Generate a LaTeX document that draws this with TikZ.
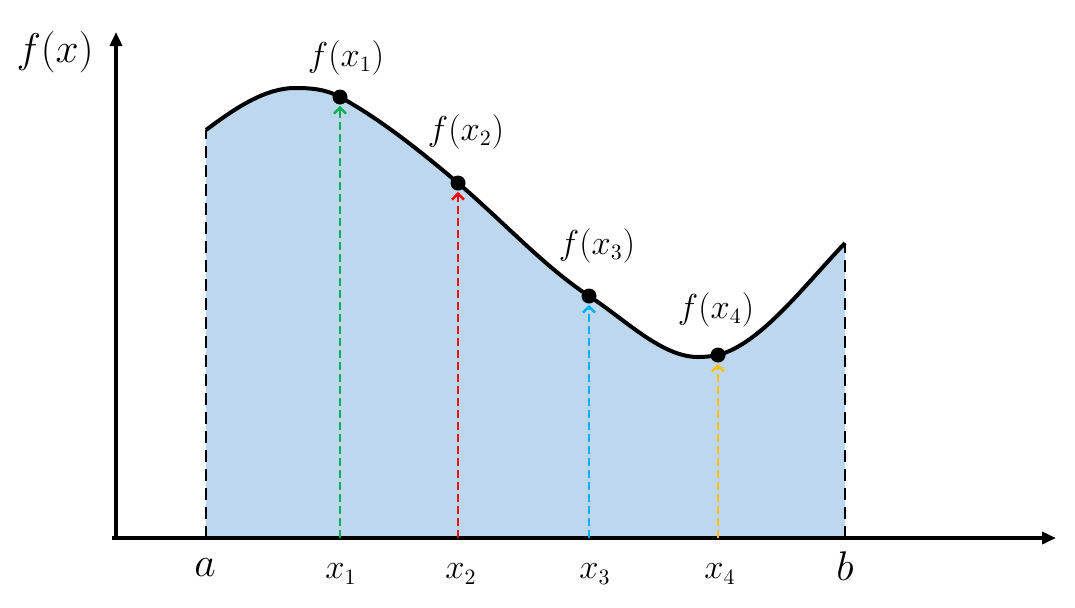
\documentclass[tikz,border=0pt]{standalone}
\usetikzlibrary{arrows.meta}
\definecolor{areafill}{HTML}{BDD7EE}
\definecolor{cgreen}{HTML}{00B050}
\definecolor{cred}{HTML}{FF0000}
\definecolor{cblue}{HTML}{00B0F0}
\definecolor{cyellow}{HTML}{FFC000}
\begin{document}
\begin{tikzpicture}[x=0.5pt,y=-0.5pt,
  axis/.style={line width=2pt,-{Triangle[length=7pt,width=6pt]}},
  bound/.style={line width=1.4pt,dash pattern=on 6pt off 3.5pt},
  sample/.style={line width=1.2pt,dash pattern=on 4pt off 2pt,-{Straight Barb[length=3pt,width=6pt,line width=1.2pt]},shorten >=0.5pt},
  dot/.style={circle,fill=black,inner sep=0pt,minimum size=7.5pt},
  flabel/.style={font=\fontsize{16}{18}\selectfont},
  fxlabel/.style={font=\fontsize{21}{24}\selectfont},
  xlabel/.style={font=\fontsize{16}{18}\selectfont},
  endlabel/.style={font=\fontsize{20}{22}\selectfont}]
\useasboundingbox (0,0) rectangle (1075,607);
\def\curvepath{(206,130) .. controls (235.7,107.7) and (265.3,88) .. (295,88)
  .. controls (310,88) and (325,88.75) .. (340,97)
  .. controls (379.3,118.6) and (418.7,149.6) .. (458,183)
  .. controls (501.7,220.1) and (545.3,267.6) .. (589,296)
  .. controls (625.3,319.6) and (661.7,357) .. (698,357)
  .. controls (704.7,357) and (711.3,356.3) .. (718,355)
  .. controls (760.3,344) and (802.7,287.4) .. (845,243)}
% fill
\fill[areafill] (206,538) -- \curvepath -- (845,538) -- cycle;
% bounds
\coordinate (A0) at (206,538);
\coordinate (A1) at (206,130);
\coordinate (B0) at (845,538);
\coordinate (B1) at (845,243);
\draw[bound] (A0) -- (A1);
\draw[bound] (B0) -- (B1);
% curve
\draw[line width=2pt] \curvepath;
% axes
\coordinate (Xstart) at (112,538);
\coordinate (Ystart) at (116,540);
\coordinate (Xend) at (1056,538);
\coordinate (Yend) at (116,32);
\draw[axis] (Xstart) -- (Xend);
\draw[axis] (Ystart) -- (Yend);
% dots
\node[dot] (p1) at (340,97) {};
\node[dot] (p2) at (458,183) {};
\node[dot] (p3) at (589,296) {};
\node[dot] (p4) at (718,355) {};
% axis feet
\coordinate (q1) at (340,538);
\coordinate (q2) at (458,538);
\coordinate (q3) at (589,538);
\coordinate (q4) at (718,538);
\draw[sample,cgreen] (q1) -- (p1);
\draw[sample,cred] (q2) -- (p2);
\draw[sample,cblue] (q3) -- (p3);
\draw[sample,cyellow] (q4) -- (p4);
% labels
\node[fxlabel] (lfx) at (55,52) {$f(x)$};
\node[flabel] (l1) at (346,58) {$f(x_1)$};
\node[flabel] (l2) at (466,132) {$f(x_2)$};
\node[flabel] (l3) at (597,246) {$f(x_3)$};
\node[flabel] (l4) at (716,310) {$f(x_4)$};
\node[endlabel] (la) at (205,568) {$a$};
\node[endlabel] (lb) at (845,566) {$b$};
\node[xlabel] (x1) at (341,574) {$x_1$};
\node[xlabel] (x2) at (461,574) {$x_2$};
\node[xlabel] (x3) at (595,574) {$x_3$};
\node[xlabel] (x4) at (720,574) {$x_4$};
\end{tikzpicture}
\end{document}
